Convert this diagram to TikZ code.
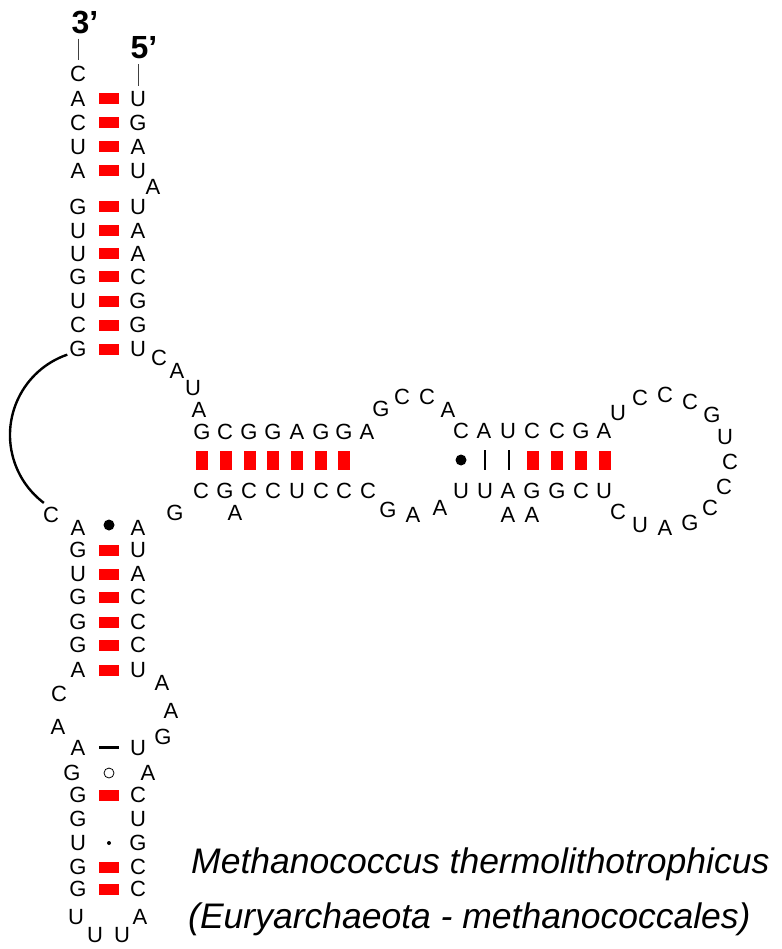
\documentclass[tikz,border=0pt]{standalone}
\usepackage{fontspec}
\setmainfont{Liberation Sans}
\usetikzlibrary{calc}
\begin{document}
\begin{tikzpicture}[x=1pt,y=1pt,
 nt/.style={font=\fontsize{22}{22}\selectfont, inner sep=0pt},
 hb/.style={fill=red, minimum width=20pt, minimum height=11pt, inner sep=0pt},
 vb/.style={fill=red, minimum width=12pt, minimum height=19pt, inner sep=0pt},
 endlab/.style={font=\fontsize{32}{32}\selectfont\bfseries, inner sep=0pt},
 sp/.style={font=\fontsize{35.5}{35.5}\selectfont\itshape, inner sep=0pt, anchor=base west},
 tick/.style={draw=black!75, line width=0.9pt},
 bdot/.style={circle, fill=black, minimum size=11pt, inner sep=0pt},
 sdot/.style={circle, fill=black, minimum size=4pt, inner sep=0pt},
 odot/.style={circle, draw=black, line width=0.8pt, minimum size=10pt, inner sep=0pt},
 hdash/.style={fill=black, minimum width=20pt, minimum height=3pt, inner sep=0pt},
 vline/.style={fill=black, minimum width=2.6pt, minimum height=20pt, inner sep=0pt},
]
\useasboundingbox (0,0) rectangle (781,-949);
% end labels
\node[endlab] (l3) at (85,-23) {3’};
\node[endlab] (l5) at (144,-48) {5’};
% nucleotides
\foreach \n/\x/\y/\t in {
 L1/78/74/C, L2/78/99/A, L3/78/123/C, L4/78/147/U, L5/78/171/A,
 L6/78/207/G, L7/78/231/U, L8/78/254/U, L9/78/277/G, L10/78/301/U, L11/78/325/C, L12/78/349/G,
 R1/138/99/U, R2/138/123/G, R3/138/147/A, R4/138/171/U, Rb/153/187/A,
 R5/138/207/U, R6/138/231/A, R7/138/254/A, R8/138/277/C, R9/138/301/G, R10/138/325/G, R11/138/349/U,
 J1/159/358/C, J2/177/371/A, J3/193/388/U, J4/199/410/A,
 H1/202/432/G, H2/225/432/C, H3/249/432/G, H4/273/432/G, H5/297/432/A, H6/321/432/G, H7/344/432/G, H8/367/432/A,
 P1/381/409/G, P2/402/397/C, P3/427/397/C, P4/448/410/A,
 K1/461/431/C, K2/484/431/A, K3/508/431/U, K4/532/431/C, K5/557/431/C, K6/581/431/G, K7/604/431/A,
 Q1/618/413/U, Q2/640/398/C, Q3/665/395/C, Q4/690/402/C, Q5/712/415/G, Q6/725/437/U, Q7/730/462/C,
 Q8/724/487/C, Q9/710/508/C, Q10/690/523/G, Q11/665/528/A, Q12/640/525/U, Q13/618/512/C,
 M7/604/491/U, M6/581/491/C, M5/557/491/G, M4/532/491/G, M3/508/491/A, M2/485/491/U, M1/461/491/U,
 Ma/532/515/A, Mb/508/515/A,
 N1/440/508/A, N2/413/515/A, N3/388/510/G,
 B8/368/491/C, B7/344/491/C, B6/321/491/C, B5/297/491/U, B4/273/491/C, B3/249/491/C, B2/225/491/G, B1/201/491/C,
 Ba/235/513/A, Bg/175/513/G,
 S0/51/515/C,
 S1/78/528/A, S2/78/550/G, S3/78/574/U, S4/78/597/G, S5/78/622/G, S6/78/645/G, S7/78/670/A,
 T1/138/528/A, T2/138/550/U, T3/138/574/A, T4/138/597/C, T5/138/622/C, T6/138/645/C, T7/138/670/U,
 La1/59/694/C, La2/58/727/A, Ra1/162/683/A, Ra2/171/711/A, Ra3/163/737/G,
 S8/78/748/A, S9/72/773/G, S10/78/795/G, S11/78/819/G, S12/78/843/U, S13/78/867/G, S14/78/889/G,
 T8/138/748/U, T9/148/773/A, T10/138/795/C, T11/138/819/U, T12/138/843/G, T13/138/867/C, T14/138/889/C,
 U1/76/917/U, U2/95/935/U, U3/122/935/U, U4/140/917/A}
 \node[nt] (\n) at (\x,-\y) {\t};
% top stem bars
\foreach \i/\y in {1/99,2/123,3/147,4/171,5/207,6/231,7/254,8/277,9/301,10/325,11/349}
 \node[hb] (tb\i) at (109,-\y) {};
% helix 1 bars
\foreach \i/\x in {1/202,2/226,3/250,4/273,5/297,6/321,7/344}
 \node[vb] (hb\i) at (\x,-460) {};
% helix 2 symbols
\node[bdot] (hd) at (461,-460) {};
\node[vline] (hl1) at (485,-460) {};
\node[vline] (hl2) at (509,-460) {};
\foreach \i/\x in {1/533,2/557,3/581,4/605}
 \node[vb] (kb\i) at (\x,-460) {};
% bottom stem symbols
\node[bdot] (sd) at (109,-525) {};
\foreach \i/\y in {1/550,2/574,3/597,4/622,5/645,6/670,7/795,8/867,9/889}
 \node[hb] (sb\i) at (109,-\y) {};
\node[hdash] (sh) at (109,-747) {};
\node[odot] (so) at (109,-773) {};
\node[sdot] (ss) at (109,-843) {};
% end ticks
\draw[tick] ($(l3.south -| L1.center)+(0,-4)$) -- ($(L1.north)+(0,6)$);
\draw[tick] ($(l5.south -| R1.center)+(0,-5)$) -- ($(R1.north)+(0,5)$);
% long-range connecting arc
\coordinate (a0) at ($(95,-435)+(109:85)$);
\draw[line width=2.4pt] (a0) arc[start angle=109, end angle=233, radius=85];
% species
\node[sp] (sp1) at (191,-873) {Methanococcus thermolithotrophicus};
\node[sp] (sp2) at (188,-928) {(Euryarchaeota - methanococcales)};
\end{tikzpicture}
\end{document}
